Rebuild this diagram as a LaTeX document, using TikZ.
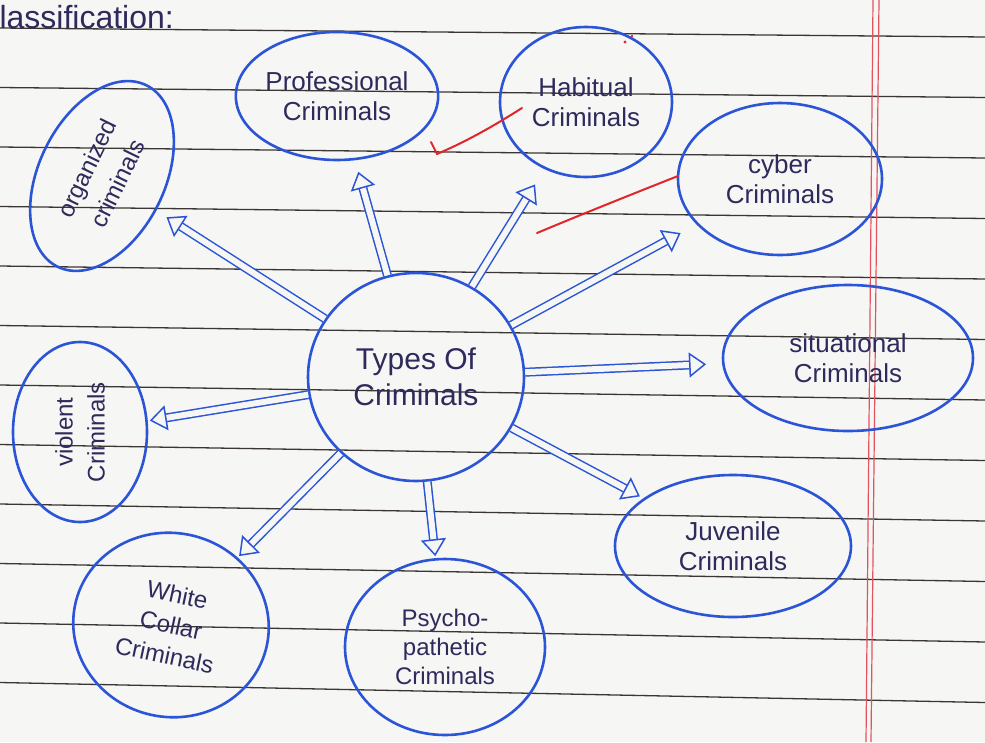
\documentclass[tikz,border=0pt]{standalone}
\usepackage{fontspec}
\setmainfont{Liberation Sans}
\usetikzlibrary{shapes.geometric, arrows.meta}

\definecolor{pen}{HTML}{2B55D6}
\definecolor{ink}{HTML}{2E2A5C}
\definecolor{paper}{HTML}{F6F6F4}
\definecolor{ruling}{HTML}{3B3633}
\definecolor{margin}{HTML}{E2535F}
\definecolor{tick}{HTML}{E0262A}

\tikzset{
  bubble/.style={ellipse, draw=pen, line width=2.6pt, text=ink, align=center,
    inner sep=0pt, font=\fontsize{26}{30}\selectfont},
  hollow/.style={draw=pen, line width=1.5pt, double=paper, double distance=6pt,
    -{Triangle[open, length=17pt, width=25pt, line width=1.5pt]}},
  redmark/.style={draw=tick, line width=2pt, line cap=round}
}

\begin{document}
\begin{tikzpicture}[x=1pt, y=-1pt]
\useasboundingbox (0,0) rectangle (985,742);
\fill[paper] (0,0) rectangle (985,742);

% ruled paper
\foreach \k in {0,...,11}
  \draw[ruling, line width=1.3pt] (0, 28+59.5*\k) -- (985, 37+60.5*\k);
\draw[margin, line width=1.2pt] (873,0) -- (866,742);
\draw[margin, line width=1.2pt] (879,0) -- (871,742);

\node[anchor=base west, text=ink, font=\fontsize{32}{36}\selectfont] (title) at (-4,28) {lassification:};

% bubbles
\node[bubble, minimum width=216, minimum height=208, font=\fontsize{30}{36}\selectfont] (types) at (416,377) {Types Of\\Criminals};
\node[bubble, minimum width=190, minimum height=128] (prof) at (337,96) {Professional\\Criminals};
\node[bubble, minimum width=172, minimum height=150] (hab) at (586,102) {Habitual\\Criminals};
\node[bubble, minimum width=204, minimum height=152] (cyber) at (780,179) {cyber\\Criminals};
\node[bubble, minimum width=202, minimum height=126, rotate=64, font=\fontsize{24}{34}\selectfont] (org) at (102,176) {organized\\criminals};
\node[bubble, minimum width=180, minimum height=134, rotate=90, font=\fontsize{24}{32}\selectfont] (violent) at (80,432) {violent\\Criminals};
\node[bubble, minimum width=250, minimum height=146] (sit) at (848,358) {situational\\Criminals};
\node[bubble, minimum width=236, minimum height=142] (juv) at (733,546) {Juvenile\\Criminals};
\node[bubble, minimum width=200, minimum height=176, font=\fontsize{24}{29}\selectfont] (psy) at (445,647) {Psycho-\\pathetic\\Criminals};
\node[bubble, minimum width=196, minimum height=184, rotate=-12, font=\fontsize{24}{31}\selectfont] (wc) at (171,625) {White\\Collar\\Criminals};

% arrows
\draw[hollow, shorten >=12] (types) -- (org);
\draw[hollow, shorten >=12] (types) -- (prof);
\draw[hollow, shorten >=18] (types) -- (hab);
\draw[hollow, shorten >=18] (types) -- (cyber);
\draw[hollow, shorten >=16] (types) -- (sit);
\draw[hollow, shorten >=4] (types) -- (juv);
\draw[hollow, shorten >=2] (types) -- (psy);
\draw[hollow, shorten >=2] (types) -- (wc);
\draw[hollow, shorten >=2] (types) -- (violent);

% red ticks
\draw[redmark] (431,142) -- (437,154) .. controls (470,140) and (500,122) .. (522,108);
\draw[redmark] (537,233) .. controls (580,215) and (630,195) .. (678,176);
\fill[tick] (625,42) circle (1.6);
\fill[tick] (632,36) circle (1.3);

\end{tikzpicture}
\end{document}
